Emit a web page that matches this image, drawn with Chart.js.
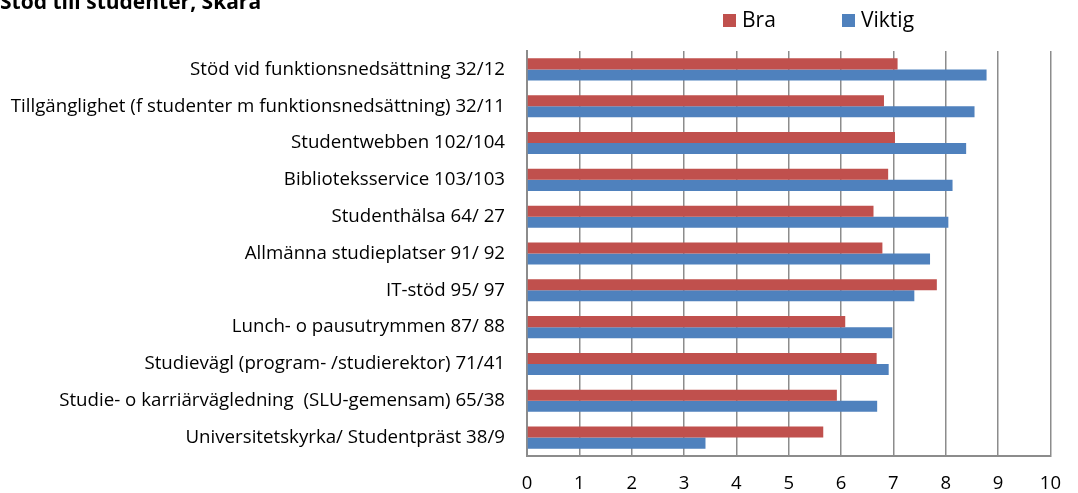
<!DOCTYPE html>
<html>
<head>
<meta charset="utf-8">
<title>Stöd till studenter, Skara</title>
<script src="https://cdn.jsdelivr.net/npm/chart.js@4.4.1/dist/chart.umd.min.js"></script>
<style>
  html, body { margin: 0; padding: 0; background: #fff; overflow: hidden; }
  #wrap { width: 1078px; height: 493px; }
</style>
</head>
<body>
<div id="wrap"><canvas id="chart" width="1078" height="493"></canvas></div>
<script>
const chartTitle = 'Stöd till studenter, Skara';

const categories = [
  'Stöd vid funktionsnedsättning 32/12',
  'Tillgänglighet (f studenter m funktionsnedsättning) 32/11',
  'Studentwebben 102/104',
  'Biblioteksservice 103/103',
  'Studenthälsa 64/ 27',
  'Allmänna studieplatser 91/ 92',
  'IT-stöd 95/ 97',
  'Lunch- o pausutrymmen 87/ 88',
  'Studievägl (program- /studierektor) 71/41',
  'Studie- o karriärvägledning  (SLU-gemensam) 65/38',
  'Universitetskyrka/ Studentpräst 38/9'
];

const braValues    = [7.08, 6.82, 7.03, 6.90, 6.62, 6.79, 7.83, 6.08, 6.68, 5.92, 5.66];
const viktigValues = [8.78, 8.55, 8.39, 8.13, 8.05, 7.70, 7.40, 6.98, 6.91, 6.69, 3.41];

const xMin = 0;
const xMax = 10;

const fontFamily = "'Open Sans', sans-serif";
const gridColor = '#8c8c8c';

// title (clipped at the top, like the original) and legend
const headerPlugin = {
  id: 'header',
  afterDraw(chart) {
    const ctx = chart.ctx;
    ctx.save();
    ctx.fillStyle = '#000';
    ctx.textAlign = 'left';
    ctx.textBaseline = 'alphabetic';
    ctx.font = 'bold 21px ' + fontFamily;
    ctx.fillText(chartTitle, 0, 9);

    const legendX = [723, 842];
    ctx.font = '21px ' + fontFamily;
    ctx.textBaseline = 'middle';
    chart.data.datasets.forEach((ds, i) => {
      ctx.fillStyle = ds.backgroundColor;
      ctx.fillRect(legendX[i], 14, 13, 13);
      ctx.fillStyle = '#000';
      ctx.fillText(ds.label, legendX[i] + 19, 21);
    });
    ctx.restore();
  }
};

function drawChart() {
  const ctx = document.getElementById('chart').getContext('2d');
  new Chart(ctx, {
    type: 'bar',
    data: {
      labels: categories,
      datasets: [
        {
          label: 'Bra',
          data: braValues,
          backgroundColor: '#c0504d',
          categoryPercentage: 0.6,
          barPercentage: 1.0,
        },
        {
          label: 'Viktig',
          data: viktigValues,
          backgroundColor: '#4f81bd',
          categoryPercentage: 0.6,
          barPercentage: 1.0,
        },
      ],
    },
    options: {
      indexAxis: 'y',
      responsive: false,
      animation: false,
      layout: {
        padding: { top: 51, right: 13, bottom: 0, left: 0 },
      },
      plugins: {
        legend: { display: false },
        title: { display: false },
        tooltip: { enabled: false },
      },
      scales: {
        x: {
          min: xMin,
          max: xMax,
          ticks: {
            stepSize: 1,
            color: '#000',
            padding: 17,
            font: { family: fontFamily, size: 18.5 },
          },
          grid: {
            color: gridColor,
            lineWidth: 1.5,
            drawTicks: false,
          },
          border: { display: true, color: gridColor, width: 2 },
          afterFit(scale) { scale.height = 37; },
        },
        y: {
          ticks: {
            color: '#000',
            padding: 22,
            font: { family: fontFamily, size: 18.7 },
          },
          grid: { display: false, drawTicks: false },
          border: { display: true, color: gridColor, width: 2 },
          afterFit(scale) { scale.width = 527; },
        },
      },
    },
    plugins: [headerPlugin],
  });
}

document.fonts.load("17px 'Open Sans'").then(drawChart, drawChart);
</script>
</body>
</html>
